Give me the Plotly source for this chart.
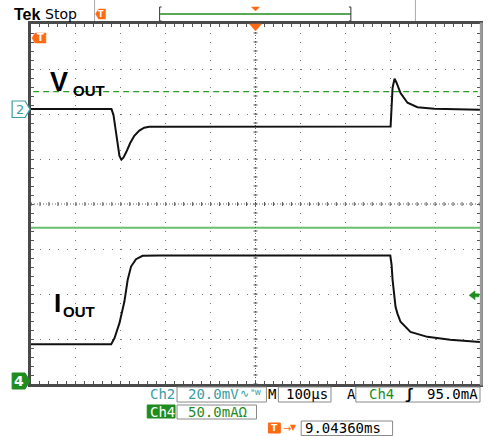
import plotly.graph_objects as go

# ---------------- data read from the screen ----------------
# time in microseconds (trigger at 0, 100 us/div)
t_vout = [-500, -320.8, -316.4, -311.9, -307.5, -303, -298.7, -294.2, -287.6, -278.8,
          -269.9, -258.8, -247.8, -236.7, 300.9, 303.1, 305.3, 309.7, 314.1, 323,
          338.5, 360.6, 398.2, 500]
v_out_mv = [0, 0, -2.5, -9.2, -15.9, -20.8, -22.5, -21.6, -19, -15,
            -11.9, -9.6, -8.3, -7.9, -7.8, 1.9, 9.5, 13.5, 11.7, 7.1,
            2.8, 0.8, 0.1, -0.3]

t_iout = [-500, -321.4, -314.1, -303, -292, -284.7, -277.2, -266.1, -251.5, -214.6,
          300.2, 303.1, 305.3, 311.9, 316.3, 323, 345.1, 382.7, 433.6, 500]
i_out_ma = [40.8, 40.8, 47.4, 64.1, 88.1, 112.2, 127, 135.2, 138.9, 139.2,
            139.2, 128.9, 112.2, 82.2, 74.4, 65.6, 54.4, 48.9, 45.6, 43.3]

CH2_SCALE_MV = 20.0      # mV/div
CH4_SCALE_MA = 50.0      # mA/div
CH2_OFFSET_DIV = 2.11    # ground marker position, divisions
CH4_OFFSET_DIV = -3.93
CH2_REF_MV = 7.7         # dashed green reference
CH4_REF_MA = 170.0       # solid green reference
TRIG_LEVEL_MA = 95.0

readout = ["Ch2", "20.0mV", "M", "100µs", "A", "Ch4", "95.0mA", "50.0mAΩ", "9.04360ms"]

# ---------------- geometry helpers ----------------
W, H = 489, 436
L, T, PW, PH = 31, 24, 452, 360
def px(x):
    return (x - L) / PW
def py(y):
    return (T + PH - y) / PH

def ch2(v):
    return CH2_OFFSET_DIV + v / CH2_SCALE_MV
def ch4(v):
    return CH4_OFFSET_DIV + v / CH4_SCALE_MA

TEAL = "#3a9ea6"
GREEN = "#1f8c1f"
ORANGE = "#ff6a10"
MONO = "DejaVu Sans Mono"

fig = go.Figure()
fig.add_trace(go.Scatter(x=t_vout, y=[ch2(v) for v in v_out_mv], mode="lines",
                         line=dict(color="#111", width=2), hoverinfo="skip"))
fig.add_trace(go.Scatter(x=t_iout, y=[ch4(v) for v in i_out_ma], mode="lines",
                         line=dict(color="#111", width=2), hoverinfo="skip"))

shapes = []
# reference lines
shapes.append(dict(type="line", xref="paper", yref="y", x0=0.005, x1=0.995,
                   y0=ch2(CH2_REF_MV), y1=ch2(CH2_REF_MV),
                   line=dict(color="#2a9a2a", width=1.2, dash="6px,4px"), layer="below"))
shapes.append(dict(type="line", xref="paper", yref="y", x0=0, x1=1,
                   y0=ch4(CH4_REF_MA), y1=ch4(CH4_REF_MA),
                   line=dict(color="#6cbf6c", width=2), layer="below"))
# center crosshair
shapes.append(dict(type="line", xref="paper", yref="y", x0=0, x1=1, y0=0, y1=0,
                   line=dict(color="#666", width=1, dash="1px,2px"), layer="below"))
shapes.append(dict(type="line", xref="x", yref="paper", x0=0, x1=0, y0=0, y1=1,
                   line=dict(color="#666", width=1, dash="1px,2px"), layer="below"))
for k in range(-25, 26):
    xv = k * 20
    shapes.append(dict(type="line", xref="x", yref="paper", x0=xv, x1=xv,
                       y0=py(206), y1=py(202), line=dict(color="#555", width=1), layer="below"))
for k in range(-20, 21):
    yv = k * 0.2
    shapes.append(dict(type="line", xref="paper", yref="y", x0=px(255), x1=px(259),
                       y0=yv, y1=yv, line=dict(color="#555", width=1), layer="below"))
# right frame edge lighter
shapes.append(dict(type="line", xref="paper", yref="paper", x0=1.003, x1=1.003, y0=-0.004, y1=1.004,
                   line=dict(color="#9a9a9a", width=3)))

def path(pts):
    s = "M " + " L ".join(f"{px(a):.5f},{py(b):.5f}" for a, b in pts) + " Z"
    return s

# channel 2 marker (outline)
shapes.append(dict(type="path", xref="paper", yref="paper",
                   path=path([(12, 101), (25, 101), (30, 109.3), (25, 117.5), (12, 117.5)]),
                   line=dict(color=TEAL, width=1.2), fillcolor="white"))
# channel 4 marker (filled)
shapes.append(dict(type="path", xref="paper", yref="paper",
                   path=path([(12, 373), (25, 373), (30, 381), (25, 389), (12, 389)]),
                   line=dict(color=GREEN, width=1), fillcolor=GREEN))
# trigger level arrow (right)
ty = (T + PH) - (CH4_OFFSET_DIV + 4 + TRIG_LEVEL_MA / CH4_SCALE_MA) * PH / 8
shapes.append(dict(type="path", xref="paper", yref="paper",
                   path=path([(472, ty), (478, ty - 4.5), (478, ty - 1.5), (482, ty - 1.5),
                              (482, ty + 1.5), (478, ty + 1.5), (478, ty + 4.5)]),
                   line=dict(color=GREEN, width=0.5), fillcolor=GREEN))
# trigger position triangle at top of graticule
shapes.append(dict(type="path", xref="paper", yref="paper",
                   path=path([(251, 24), (263, 24), (257, 31)]),
                   line=dict(color=ORANGE, width=0.5), fillcolor=ORANGE))
# T flag inside plot
shapes.append(dict(type="path", xref="paper", yref="paper",
                   path=path([(32, 38), (35, 33), (46, 33), (46, 43), (35, 43)]),
                   line=dict(color=ORANGE, width=0.5), fillcolor=ORANGE))
# header: record bar
shapes.append(dict(type="line", xref="paper", yref="paper", x0=px(95), x1=px(95), y0=py(0), y1=py(21),
                   line=dict(color="#aaa", width=1)))
shapes.append(dict(type="line", xref="paper", yref="paper", x0=px(418), x1=px(418), y0=py(0), y1=py(21),
                   line=dict(color="#aaa", width=1)))
shapes.append(dict(type="path", xref="paper", yref="paper",
                   path=path([(96, 14), (99, 9), (106, 9), (106, 19), (99, 19)]),
                   line=dict(color=ORANGE, width=0.5), fillcolor=ORANGE))
shapes.append(dict(type="line", xref="paper", yref="paper", x0=px(161), x1=px(353), y0=py(14), y1=py(14),
                   line=dict(color=GREEN, width=1.5)))
for xb, d in ((160.5, 2), (353, -2)):
    shapes.append(dict(type="path", xref="paper", yref="paper",
                       path="M " + f"{px(xb + d):.5f},{py(7):.5f} L {px(xb):.5f},{py(7):.5f} L {px(xb):.5f},{py(21):.5f} L {px(xb + d):.5f},{py(21):.5f}",
                       line=dict(color="#333", width=1)))
shapes.append(dict(type="path", xref="paper", yref="paper",
                   path=path([(253, 7), (261, 7), (257, 11)]),
                   line=dict(color=ORANGE, width=0.5), fillcolor=ORANGE))

# readout boxes
def box(x0, y0, x1, y1, fill=None, color="#8a8a8a"):
    shapes.append(dict(type="rect", xref="paper", yref="paper", x0=px(x0), x1=px(x1),
                       y0=py(y1), y1=py(y0), line=dict(color=color, width=1),
                       fillcolor=fill if fill else "rgba(0,0,0,0)"))
box(178, 387, 268, 402)
box(280, 387, 333, 402)
box(358, 387, 483, 402)
box(148, 405, 176, 418, fill=GREEN, color=GREEN)
box(178, 405, 258, 419)
box(270, 423, 282, 433, fill=ORANGE, color=ORANGE)
box(303, 421, 395, 435.5)

ann = []
def text(x, y, s, color="#000", size=13, family=MONO, xanchor="left", bold=False):
    ann.append(dict(xref="paper", yref="paper", x=px(x), y=py(y), text=(f"<b>{s}</b>" if bold else s),
                    showarrow=False, xanchor=xanchor, yanchor="middle",
                    font=dict(color=color, size=size, family=family)))

text(12, 14, "Tek", size=16, family="Liberation Sans Narrow, Liberation Sans", bold=True)
text(43, 14, "Stop", size=14, family="DejaVu Sans")
text(101, 14, "T", color="white", size=8, family="DejaVu Sans", bold=True, xanchor="center")
text(40.5, 38, "T", color="white", size=10, family="DejaVu Sans", bold=True, xanchor="center")
text(19.5, 109.3, "2", color=TEAL, size=13, family="DejaVu Sans", xanchor="center")
text(19, 381, "4", color="white", size=14, family="DejaVu Sans", bold=True, xanchor="center")

# V_OUT / I_OUT labels
text(48, 82, "V", size=27, family="Liberation Sans", bold=True)
text(71, 90, "OUT", size=15, family="Liberation Sans", bold=True)
text(52, 303, "I", size=26, family="Liberation Sans", bold=True)
text(61, 311, "OUT", size=15, family="Liberation Sans", bold=True)

# readout text
text(149, 394.5, readout[0], color=TEAL, size=14)
text(187, 394.5, readout[1], color=TEAL, size=14)
text(239, 394, "∿", color=TEAL, size=11, family="DejaVu Sans")
text(250, 393, "ᴮw", color=TEAL, size=8, family="DejaVu Sans")
text(268, 394.5, readout[2], size=14)
text(286, 394.5, readout[3], size=14)
text(347, 394.5, readout[4], size=14)
text(369, 394.5, readout[5], color=GREEN, size=14)
text(405, 394.5, "ʃ", size=14, bold=True)
text(428, 394.5, readout[6], size=14)
text(149, 411.5, "Ch4", color="white", size=14)
text(187, 412, readout[7], color=GREEN, size=14)
text(283, 428, "→", color=ORANGE, size=10, family="DejaVu Sans")
text(290, 427, "▼", color=ORANGE, size=8, family="DejaVu Sans")
text(276, 428, "T", color="white", size=9, family="DejaVu Sans", bold=True, xanchor="center")
text(305, 428, readout[8], size=14)

axis_common = dict(showticklabels=False, showline=True, linecolor="#4a4a4a", linewidth=3,
                   mirror="allticks", ticks="inside", ticklen=3, tickcolor="#555",
                   showgrid=True, gridcolor="#777", gridwidth=1, griddash="1px,8px",
                   zeroline=False, fixedrange=True)
fig.update_layout(
    width=W, height=H,
    margin=dict(l=L, r=W - L - PW, t=T, b=H - T - PH),
    paper_bgcolor="white", plot_bgcolor="white",
    showlegend=False,
    xaxis=dict(range=[-500, 500], dtick=100, tick0=0,
               minor=dict(dtick=20, ticks="inside", ticklen=3, tickcolor="#555", showgrid=False),
               **axis_common),
    yaxis=dict(range=[-4, 4], dtick=1, tick0=0,
               minor=dict(dtick=0.2, ticks="inside", ticklen=3, tickcolor="#555", showgrid=False),
               **axis_common),
    shapes=shapes, annotations=ann,
)
fig.write_html("out.html", config={"displayModeBar": False},
               post_script="document.body.style.margin='0';document.body.style.padding='0';document.body.style.overflow='hidden';")
